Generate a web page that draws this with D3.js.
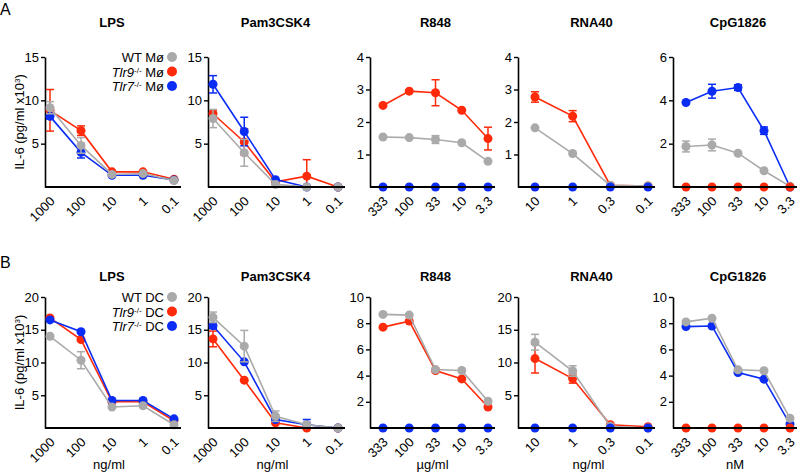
<!DOCTYPE html>
<html>
<head>
<meta charset="utf-8">
<script src="https://cdn.jsdelivr.net/npm/d3@7"></script>
<style>
  body { margin: 0; background: #fff; }
  text { font-family: "Liberation Sans", Arial, sans-serif; fill: #000; }
</style>
</head>
<body>
<svg id="chart" width="800" height="476"></svg>
<script>
// doses (x axis categories)
var doseNg = ['1000', '100', '10', '1', '0.1'];
var doseUg = ['333', '100', '33', '10', '3.3'];
var doseRna = ['10', '1', '0.3', '0.1'];
var doseNm = ['333', '100', '33', '10', '3.3'];

var seriesNames = ['WT', 'Tlr9', 'Tlr7'];
var colors = ['#aaaaaa', '#ff2a0a', '#0a2cf5'];

// A: macrophages, IL-6 mean and error (pg/ml x10^3)
var mLpsWT = [9.15, 4.8, 1.45, 1.55, 0.75],   mLpsWTerr = [0.7, 0.9, 0.2, 0.2, 0.1];
var mLpsT9 = [8.85, 6.5, 1.75, 1.75, 0.9],    mLpsT9err = [2.4, 0.55, 0.15, 0.15, 0.1];
var mLpsT7 = [8.15, 4.0, 1.35, 1.35, 0.8],    mLpsT7err = [0.3, 0.65, 0.1, 0.1, 0.05];

var mPamWT = [7.9, 3.95, 0.3, 0, 0],          mPamWTerr = [1.05, 1.55, 0.1, 0, 0];
var mPamT9 = [8.45, 5.2, 0.6, 1.25, 0],       mPamT9err = [0.4, 1.5, 0.15, 1.9, 0];
var mPamT7 = [11.85, 6.4, 0.85, 0, 0],        mPamT7err = [1.0, 1.65, 0.15, 0, 0];

var mR848WT = [1.54, 1.52, 1.46, 1.36, 0.79], mR848WTerr = [0.05, 0.04, 0.12, 0.05, 0.04];
var mR848T9 = [2.51, 2.95, 2.9, 2.36, 1.49],  mR848T9err = [0.05, 0.05, 0.4, 0.06, 0.35];
var mR848T7 = [0, 0, 0, 0, 0],                mR848T7err = [0, 0, 0, 0, 0];

var mRnaWT = [1.82, 1.03, 0.05, 0.03],        mRnaWTerr = [0.04, 0.03, 0, 0];
var mRnaT9 = [2.77, 2.18, 0.05, 0.03],        mRnaT9err = [0.16, 0.17, 0, 0];
var mRnaT7 = [0, 0, 0, 0],                    mRnaT7err = [0, 0, 0, 0];

var mCpgWT = [1.87, 1.94, 1.56, 0.75, 0.03],  mCpgWTerr = [0.25, 0.27, 0.05, 0.05, 0];
var mCpgT9 = [0, 0, 0, 0, 0],                 mCpgT9err = [0, 0, 0, 0, 0];
var mCpgT7 = [3.9, 4.42, 4.59, 2.6, 0],       mCpgT7err = [0.06, 0.32, 0.13, 0.17, 0];

// B: dendritic cells
var dLpsWT = [14.0, 10.35, 3.2, 3.4, 0.5],    dLpsWTerr = [0.3, 1.3, 0.3, 0.3, 0.1];
var dLpsT9 = [16.8, 13.5, 4.0, 4.0, 1.1],     dLpsT9err = [0.3, 0.3, 0.2, 0.2, 0.1];
var dLpsT7 = [16.5, 14.7, 4.2, 4.2, 1.4],     dLpsT7err = [0.3, 0.3, 0.2, 0.2, 0.1];

var dPamWT = [16.9, 12.5, 1.8, 0.5, 0],       dPamWTerr = [0.8, 2.4, 0.8, 0.2, 0];
var dPamT9 = [13.6, 7.3, 0.8, 0, 0],          dPamT9err = [1.2, 0.2, 0.2, 0, 0];
var dPamT7 = [15.6, 10.1, 1.3, 0.5, 0],       dPamT7err = [0.4, 0.3, 0.3, 0.8, 0];

var dR848WT = [8.67, 8.62, 4.46, 4.39, 2.04], dR848WTerr = [0.1, 0.1, 0.1, 0.1, 0.1];
var dR848T9 = [7.7, 8.16, 4.39, 3.75, 1.6],   dR848T9err = [0.1, 0.1, 0.1, 0.1, 0.1];
var dR848T7 = [0, 0, 0, 0, 0],                dR848T7err = [0, 0, 0, 0, 0];

var dRnaWT = [13.1, 8.7, 0.25, 0],            dRnaWTerr = [1.2, 0.8, 0.1, 0];
var dRnaT9 = [10.6, 7.55, 0.5, 0.2],          dRnaT9err = [2.2, 0.7, 0.1, 0];
var dRnaT7 = [0, 0, 0, 0],                    dRnaT7err = [0, 0, 0, 0];

var dCpgWT = [8.1, 8.38, 4.44, 4.37, 0.74],   dCpgWTerr = [0.1, 0.1, 0.1, 0.1, 0.1];
var dCpgT9 = [0, 0, 0, 0, 0],                 dCpgT9err = [0, 0, 0, 0, 0];
var dCpgT7 = [7.74, 7.79, 4.24, 3.73, 0.3],   dCpgT7err = [0.1, 0.1, 0.1, 0.1, 0.1];

var titles = ['LPS', 'Pam3CSK4', 'R848', 'RNA40', 'CpG1826'];
var unitLabels = ['ng/ml', 'ng/ml', 'µg/ml', 'ng/ml', 'nM'];
var doses = [doseNg, doseNg, doseUg, doseRna, doseNm];

var rowA = [
  { max: 15, ticks: [5, 10, 15], s: [[mLpsWT, mLpsWTerr], [mLpsT9, mLpsT9err], [mLpsT7, mLpsT7err]] },
  { max: 15, ticks: [5, 10, 15], s: [[mPamWT, mPamWTerr], [mPamT9, mPamT9err], [mPamT7, mPamT7err]] },
  { max: 4, ticks: [1, 2, 3, 4], s: [[mR848WT, mR848WTerr], [mR848T9, mR848T9err], [mR848T7, mR848T7err]] },
  { max: 4, ticks: [1, 2, 3, 4], s: [[mRnaWT, mRnaWTerr], [mRnaT9, mRnaT9err], [mRnaT7, mRnaT7err]] },
  { max: 6, ticks: [2, 4, 6], s: [[mCpgWT, mCpgWTerr], [mCpgT9, mCpgT9err], [mCpgT7, mCpgT7err]] }
];
var rowB = [
  { max: 20, ticks: [5, 10, 15, 20], s: [[dLpsWT, dLpsWTerr], [dLpsT9, dLpsT9err], [dLpsT7, dLpsT7err]] },
  { max: 20, ticks: [5, 10, 15, 20], s: [[dPamWT, dPamWTerr], [dPamT9, dPamT9err], [dPamT7, dPamT7err]] },
  { max: 10, ticks: [2, 4, 6, 8, 10], s: [[dR848WT, dR848WTerr], [dR848T9, dR848T9err], [dR848T7, dR848T7err]] },
  { max: 20, ticks: [5, 10, 15, 20], s: [[dRnaWT, dRnaWTerr], [dRnaT9, dRnaT9err], [dRnaT7, dRnaT7err]] },
  { max: 10, ticks: [2, 4, 6, 8, 10], s: [[dCpgWT, dCpgWTerr], [dCpgT9, dCpgT9err], [dCpgT7, dCpgT7err]] }
];

// layout: y axis x, first and last dose position
var panelX = [
  { axis: 45, first: 50, last: 174 },
  { axis: 208, first: 213, last: 338 },
  { axis: 370, first: 383, last: 488 },
  { axis: 518, first: 535, last: 648 },
  { axis: 673, first: 686, last: 790 }
];

var svg = d3.select('#chart');

function drawRow( row, top, bottom, titleY, letter, letterY, cell, showUnits ) {
  svg.append( 'text' )
    .attr( 'x', 0 ).attr( 'y', letterY )
    .style( 'font-size', '16px' )
    .text( letter );

  // y axis title
  var yl = svg.append( 'text' )
    .attr( 'transform', 'translate(24,' + ( ( top + bottom ) / 2 ) + ') rotate(-90)' )
    .style( 'text-anchor', 'middle' )
    .style( 'font-size', '13px' );
  yl.append( 'tspan' ).text( 'IL-6 (pg/ml x10' );
  yl.append( 'tspan' ).attr( 'baseline-shift', 'super' ).style( 'font-size', '8px' ).text( '3' );
  yl.append( 'tspan' ).text( ')' );

  row.forEach( function( p, i ) {
    var px = panelX[i];
    var x = d3.scalePoint().domain( doses[i] ).range( [px.first, px.last] );
    var y = d3.scaleLinear().domain( [0, p.max] ).range( [bottom, top] );
    var g = svg.append( 'g' );

    g.append( 'text' )
      .attr( 'x', ( px.first + px.last ) / 2 ).attr( 'y', titleY )
      .style( 'text-anchor', 'middle' )
      .style( 'font-size', '13px' ).style( 'font-weight', 'bold' )
      .text( titles[i] );

    var ya = g.append( 'g' )
      .attr( 'transform', 'translate(' + px.axis + ',0)' )
      .call( d3.axisLeft( y ).tickValues( p.ticks ).tickFormat( d3.format( 'd' ) ).tickSize( 4 ).tickSizeOuter( 0 ) );
    ya.select( '.domain' ).attr( 'stroke-width', 1.6 );
    ya.selectAll( '.tick line' ).attr( 'stroke-width', 1.4 );
    ya.selectAll( '.tick text' ).attr( 'x', -6 ).style( 'font-size', '13px' ).style( 'font-family', '"Liberation Sans", Arial, sans-serif' );

    var xa = g.append( 'g' )
      .attr( 'transform', 'translate(0,' + bottom + ')' )
      .call( d3.axisBottom( x ).tickSize( 0 ) );
    xa.select( '.domain' ).remove();
    xa.selectAll( '.tick text' )
      .attr( 'x', 0 ).attr( 'y', 0 ).attr( 'dy', 0 )
      .attr( 'transform', 'translate(5,15) rotate(-45)' )
      .style( 'text-anchor', 'end' )
      .style( 'font-size', '13px' )
      .style( 'font-family', '"Liberation Sans", Arial, sans-serif' );

    // series: non-zero ones first, flat zero series on top
    var order = [0, 1, 2].sort( function( a, b ) {
      var za = d3.max( p.s[a][0] ) === 0 ? 1 : 0;
      var zb = d3.max( p.s[b][0] ) === 0 ? 1 : 0;
      if ( za !== zb ) return za - zb;
      return [1, 2, 0].indexOf( a ) - [1, 2, 0].indexOf( b );
    } );

    order.forEach( function( k ) {
      var vals = p.s[k][0], errs = p.s[k][1];
      var pts = vals.map( function( v, j ) { return { d: doses[i][j], v: v, e: errs[j] }; } );
      var sg = g.append( 'g' );
      sg.append( 'path' )
        .datum( pts )
        .attr( 'fill', 'none' )
        .attr( 'stroke', colors[k] )
        .attr( 'stroke-width', 1.6 )
        .attr( 'd', d3.line().x( function( d ) { return x( d.d ); } ).y( function( d ) { return y( d.v ); } ) );

      var eb = sg.selectAll( '.err' ).data( pts.filter( function( d ) { return d.e > 0.12 * p.max / 15 * 2; } ) ).enter().append( 'g' );
      eb.append( 'line' )
        .attr( 'x1', function( d ) { return x( d.d ); } ).attr( 'x2', function( d ) { return x( d.d ); } )
        .attr( 'y1', function( d ) { return y( d.v + d.e ); } ).attr( 'y2', function( d ) { return y( Math.max( 0, d.v - d.e ) ); } )
        .attr( 'stroke', colors[k] ).attr( 'stroke-width', 1.5 );
      [1, -1].forEach( function( sgn ) {
        eb.append( 'line' )
          .attr( 'x1', function( d ) { return x( d.d ) - 4; } ).attr( 'x2', function( d ) { return x( d.d ) + 4; } )
          .attr( 'y1', function( d ) { return y( Math.max( 0, d.v + sgn * d.e ) ); } )
          .attr( 'y2', function( d ) { return y( Math.max( 0, d.v + sgn * d.e ) ); } )
          .attr( 'stroke', colors[k] ).attr( 'stroke-width', 1.5 );
      } );

      sg.selectAll( 'circle' ).data( pts ).enter().append( 'circle' )
        .attr( 'cx', function( d ) { return x( d.d ); } )
        .attr( 'cy', function( d ) { return y( d.v ); } )
        .attr( 'r', 4.5 )
        .attr( 'fill', colors[k] );
    } );

    // x axis baseline drawn over the marks
    g.append( 'line' )
      .attr( 'x1', px.axis ).attr( 'x2', px.last + 7 )
      .attr( 'y1', bottom ).attr( 'y2', bottom )
      .attr( 'stroke', '#000' ).attr( 'stroke-width', 2 );

    if ( showUnits ) {
      g.append( 'text' )
        .attr( 'x', ( px.first + px.last ) / 2 - 3 ).attr( 'y', 469 )
        .style( 'text-anchor', 'middle' ).style( 'font-size', '13px' )
        .text( unitLabels[i] );
    }

    if ( i === 0 ) {
      var ly = d3.scalePoint().domain( seriesNames ).range( [top, top + 29] );
      seriesNames.forEach( function( n, k ) {
        var t = g.append( 'text' )
          .attr( 'x', 164 ).attr( 'y', ly( n ) + 5 )
          .style( 'text-anchor', 'end' ).style( 'font-size', '13px' );
        if ( k === 0 ) {
          t.append( 'tspan' ).text( 'WT ' + cell );
        } else {
          t.append( 'tspan' ).style( 'font-style', 'italic' ).text( n );
          t.append( 'tspan' ).attr( 'baseline-shift', 'super' ).style( 'font-size', '8px' ).text( '-/-' );
          t.append( 'tspan' ).text( ' ' + cell );
        }
        g.append( 'circle' )
          .attr( 'cx', 172 ).attr( 'cy', ly( n ) )
          .attr( 'r', 5 ).attr( 'fill', colors[k] );
      } );
    }
  } );
}

drawRow( rowA, 57, 187, 27, 'A', 15, 'Mø', false );
drawRow( rowB, 297, 428, 281, 'B', 268, 'DC', true );
</script>
</body>
</html>
